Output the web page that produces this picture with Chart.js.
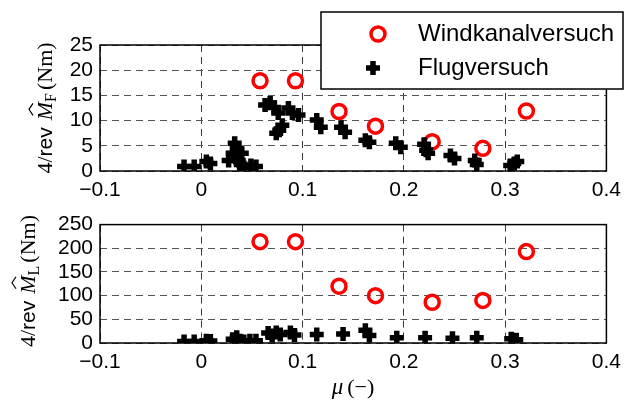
<!DOCTYPE html>
<html><head><meta charset="utf-8">
<script src="https://cdn.jsdelivr.net/npm/chart.js@4"></script>
<style>
html,body{margin:0;padding:0;background:#fff;}
#wrap{position:relative;width:628px;height:408px;overflow:hidden;}
#c1{position:absolute;left:0;top:0;}
#c2{position:absolute;left:0;top:205px;}
</style></head><body>
<div id="wrap"><canvas id="c1" width="628" height="205"></canvas><canvas id="c2" width="628" height="203"></canvas></div>
<script>
// ---- data ----
const xTicks = [-0.1, 0, 0.1, 0.2, 0.3, 0.4];
const yTicksF = [0, 5, 10, 15, 20, 25];
const yTicksL = [0, 50, 100, 150, 200, 250];
const legendLabels = ['Windkanalversuch', 'Flugversuch'];

const windMu = [0.058, 0.093, 0.136, 0.172, 0.228, 0.278, 0.321];
const windMF = [17.9, 17.9, 11.8, 8.9, 5.8, 4.5, 11.9];
const windML = [214, 214, 120, 100, 86, 90, 193];

const flugMuF = [-0.017,-0.007,0.005,0.009, 0.027,0.031,0.033,0.035,0.034,0.037,0.039,0.042,0.049,0.054,0.040, 0.063,0.068,0.072,0.076,0.074,0.077,0.080, 0.086,0.090,0.096, 0.114,0.118, 0.138,0.142, 0.162,0.166, 0.192,0.197, 0.220,0.222,0.224, 0.246,0.250, 0.270,0.272, 0.305,0.309,0.312];
const flugMF  = [0.9,0.9,1.9,1.5, 2.1,3.5,5.5,4.5,2.7,2.1,1.3,0.7,1.1,0.9,3.5, 13.1,13.5,12.6,11.5,7.5,8.1,9.1, 12.5,11.5,11.1, 10.1,8.7, 8.7,7.7, 6.1,5.7, 5.5,4.7, 5.3,4.1,3.5, 3.1,2.5, 2.1,1.3, 1.1,1.5,1.9];

const flugMuL = [-0.017,-0.007,0.005,0.009, 0.031,0.035,0.038,0.042,0.048,0.054, 0.066,0.070,0.074,0.078,0.088,0.092, 0.114,0.140,0.162,0.166,0.193,0.221,0.248,0.272,0.306,0.311];
const flugML  = [3,3,5,4, 8,12,5,3,5,5, 21,16,22,18,22,17, 18,19,27,16,11,11,10,11,9,7];

// ---- helpers ----
const pts = (xs, ys) => xs.map((x, i) => ({x: x, y: ys[i]}));
const fmtX = v => v === 0 ? '0' : (v < 0 ? '\u2212' : '') + Math.abs(v).toFixed(1);
const tickFont = {family: 'Liberation Sans, Arial, sans-serif', size: 21};
const SERIF = '"Liberation Serif", "DejaVu Serif", serif';
const RED = '#ff0000';

function drawRich(ctx, segs, cx, cy, rot) {
  ctx.save();
  ctx.translate(cx, cy);
  if (rot) ctx.rotate(rot);
  ctx.textBaseline = 'alphabetic';
  ctx.fillStyle = '#000';
  let total = 0;
  segs.forEach(s => { ctx.font = s.font; s.w = ctx.measureText(s.t).width + (s.gap || 0); total += s.w; });
  let x = -total / 2;
  segs.forEach(s => {
    ctx.font = s.font;
    ctx.fillText(s.t, x, 7 + (s.dy || 0));
    if (s.hat) {
      ctx.beginPath();
      ctx.lineWidth = 1.2;
      ctx.strokeStyle = '#000';
      const hx = x + s.w * 0.6;
      ctx.moveTo(hx - 6, -12);
      ctx.lineTo(hx, -16);
      ctx.lineTo(hx + 6, -12);
      ctx.stroke();
    }
    x += s.w;
  });
  ctx.restore();
}

function yTitleSegs(sub) {
  return [
    {t: '4/', font: '22px ' + SERIF},
    {t: 'rev', font: '21px "Liberation Sans", Arial, sans-serif', gap: 7},
    {t: 'M', font: 'italic 22px ' + SERIF, hat: true},
    {t: sub, font: '16px ' + SERIF, dy: 4, gap: 3},
    {t: '(Nm)', font: '22px ' + SERIF}
  ];
}

const boxPlugin = {
  id: 'box',
  beforeDatasetsDraw(chart) {
    const a = chart.chartArea, ctx = chart.ctx;
    ctx.save();
    ctx.strokeStyle = '#000';
    ctx.lineWidth = 1.5;
    ctx.strokeRect(a.left, a.top, a.right - a.left, a.bottom - a.top);
    ctx.restore();
  }
};

function makeOptions(yTicks, yMax, xAxisH, padTop) {
  return {
    responsive: false,
    animation: false,
    events: [],
    layout: {padding: {top: padTop, right: 18, left: 0, bottom: 0}},
    plugins: {legend: {display: false}, tooltip: {enabled: false}},
    scales: {
      x: {
        type: 'linear', min: -0.1, max: 0.4,
        afterBuildTicks: s => { s.ticks = xTicks.map(v => ({value: v})); },
        afterFit: s => { s.height = xAxisH; },
        ticks: {callback: v => fmtX(v), font: tickFont, color: '#000', padding: 7, maxRotation: 0, autoSkip: false},
        grid: {color: '#3a3a3a', lineWidth: 1, drawTicks: false},
        border: {display: false, dash: [7, 5]}
      },
      y: {
        type: 'linear', min: 0, max: yMax,
        afterBuildTicks: s => { s.ticks = yTicks.map(v => ({value: v})); },
        afterFit: s => { s.width = 100; },
        ticks: {callback: v => String(v), font: tickFont, color: '#000', padding: 7, autoSkip: false},
        grid: {color: '#555', lineWidth: 1, drawTicks: false},
        border: {display: false, dash: [7, 5]}
      }
    }
  };
}

function datasets(xw, yw, xf, yf) {
  return [
    {label: legendLabels[1], data: pts(xf, yf), pointStyle: 'cross', pointRadius: 7, borderWidth: 5.5, borderColor: '#000', backgroundColor: '#000', showLine: false, order: 0},
    {label: legendLabels[0], data: pts(xw, yw), pointStyle: 'circle', pointRadius: 7, borderWidth: 3.5, borderColor: RED, backgroundColor: 'rgba(0,0,0,0)', showLine: false, order: 1}
  ];
}

const legendPlugin = {
  id: 'customLegend',
  afterDraw(chart) {
    const ctx = chart.ctx;
    ctx.save();
    ctx.fillStyle = '#fff';
    ctx.fillRect(321, 12, 302, 77);
    ctx.strokeStyle = '#000';
    ctx.lineWidth = 1.5;
    ctx.strokeRect(321, 12, 302, 77);
    ctx.beginPath();
    ctx.arc(378, 34, 7, 0, Math.PI * 2);
    ctx.strokeStyle = RED; ctx.lineWidth = 3.5; ctx.stroke();
    ctx.beginPath();
    ctx.strokeStyle = '#000'; ctx.lineWidth = 5.5;
    ctx.moveTo(373, 61); ctx.lineTo(373, 75);
    ctx.moveTo(366, 68); ctx.lineTo(380, 68);
    ctx.stroke();
    ctx.fillStyle = '#000';
    ctx.font = '24px "Liberation Sans", Arial, sans-serif';
    ctx.textBaseline = 'middle';
    ctx.textAlign = 'left';
    ctx.fillText(legendLabels[0], 418, 34);
    ctx.fillText(legendLabels[1], 418, 68);
    ctx.restore();
  }
};

const titleTop = {
  id: 'titleTop',
  afterDraw(chart) {
    drawRich(chart.ctx, yTitleSegs('F'), 45, 108, -Math.PI / 2);
  }
};
const titleBottom = {
  id: 'titleBottom',
  afterDraw(chart) {
    const ctx = chart.ctx;
    drawRich(ctx, yTitleSegs('L'), 28, 76, -Math.PI / 2);
    drawRich(ctx, [
      {t: '\u03BC', font: 'italic 23px ' + SERIF, gap: 4},
      {t: '(\u2212)', font: '22px ' + SERIF}
    ], 353, 182, 0);
  }
};

new Chart(document.getElementById('c1'), {
  type: 'scatter',
  data: {datasets: datasets(windMu, windMF, flugMuF, flugMF)},
  options: makeOptions(yTicksF, 25, 34, 45),
  plugins: [boxPlugin, titleTop, legendPlugin]
});

new Chart(document.getElementById('c2'), {
  type: 'scatter',
  data: {datasets: datasets(windMu, windML, flugMuL, flugML)},
  options: makeOptions(yTicksL, 250, 65, 13),
  plugins: [boxPlugin, titleBottom]
});
</script>
</body></html>
